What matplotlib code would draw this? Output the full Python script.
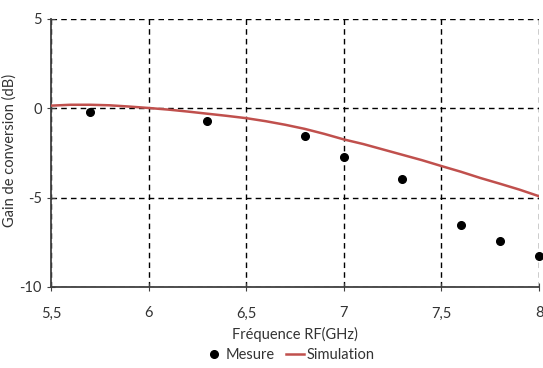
import numpy as np
import matplotlib.pyplot as plt
from matplotlib.ticker import FuncFormatter

plt.rcParams['font.family'] = ['Lato', 'DejaVu Sans']

# mesures
freq_mes = [5.7, 6.3, 6.8, 7.0, 7.3, 7.6, 7.8, 8.0]
gain_mes = [-0.19, -0.70, -1.57, -2.71, -3.97, -6.55, -7.45, -8.26]

# simulation
freq_sim = [5.5, 5.6, 5.7, 5.8, 5.9, 6.0, 6.1, 6.2, 6.3, 6.4, 6.5, 6.6, 6.7,
            6.8, 6.9, 7.0, 7.1, 7.2, 7.3, 7.4, 7.5, 7.6, 7.7, 7.8, 7.9, 8.0]
gain_sim = [0.15, 0.2, 0.2, 0.17, 0.1, 0.02, -0.07, -0.18, -0.3, -0.42, -0.55,
            -0.72, -0.92, -1.15, -1.43, -1.74, -2.0, -2.3, -2.6, -2.9, -3.23,
            -3.55, -3.9, -4.22, -4.55, -4.92]

fig = plt.figure(figsize=(5.43, 3.68), dpi=100)
ax = fig.add_axes([51/543, 1 - 287/368, (539 - 51)/543, (287 - 19)/368])

ax.plot(freq_sim, gain_sim, color='#C0504D', lw=1.8, label='Simulation', zorder=3)
ax.plot(freq_mes, gain_mes, 'o', color='black', ms=5.5, label='Mesure', zorder=4,
        clip_on=False)

ax.set_xlim(5.5, 8)
ax.set_ylim(-10, 5)
ax.set_xticks(np.arange(5.5, 8.01, 0.5))
ax.set_yticks([-10, -5, 0, 5])

virg = FuncFormatter(lambda v, p: ('%g' % v).replace('.', ','))
ax.xaxis.set_major_formatter(virg)
ax.yaxis.set_major_formatter(virg)

ax.grid(True, color='black', ls=(0, (4, 3)), lw=1)
ax.set_axisbelow(True)
for s in ['top', 'right']:
    ax.spines[s].set_visible(False)
for s in ['left', 'bottom']:
    ax.spines[s].set_color('#404040')
    ax.spines[s].set_linewidth(1.3)

ax.tick_params(direction='inout', length=6, color='#404040', labelsize=10.5,
               labelcolor='#333333')
ax.tick_params(axis='x', pad=11)

ax.set_xlabel('Fréquence RF(GHz)', fontsize=10.5, color='#333333', labelpad=5)
fig.text(10/543, 1 - 150/368, 'Gain de conversion (dB)', rotation=90, fontsize=10.5,
         color='#333333', ha='center', va='center')

handles, labels = ax.get_legend_handles_labels()
fig.legend(handles[::-1], labels[::-1], loc='center', bbox_to_anchor=(290/543, 1 - 355/368),
           ncol=2, frameon=False, fontsize=10.5, handlelength=1.2, handletextpad=0.2,
           columnspacing=0.8, labelcolor='#333333')

fig.savefig('out.png', dpi=100)
